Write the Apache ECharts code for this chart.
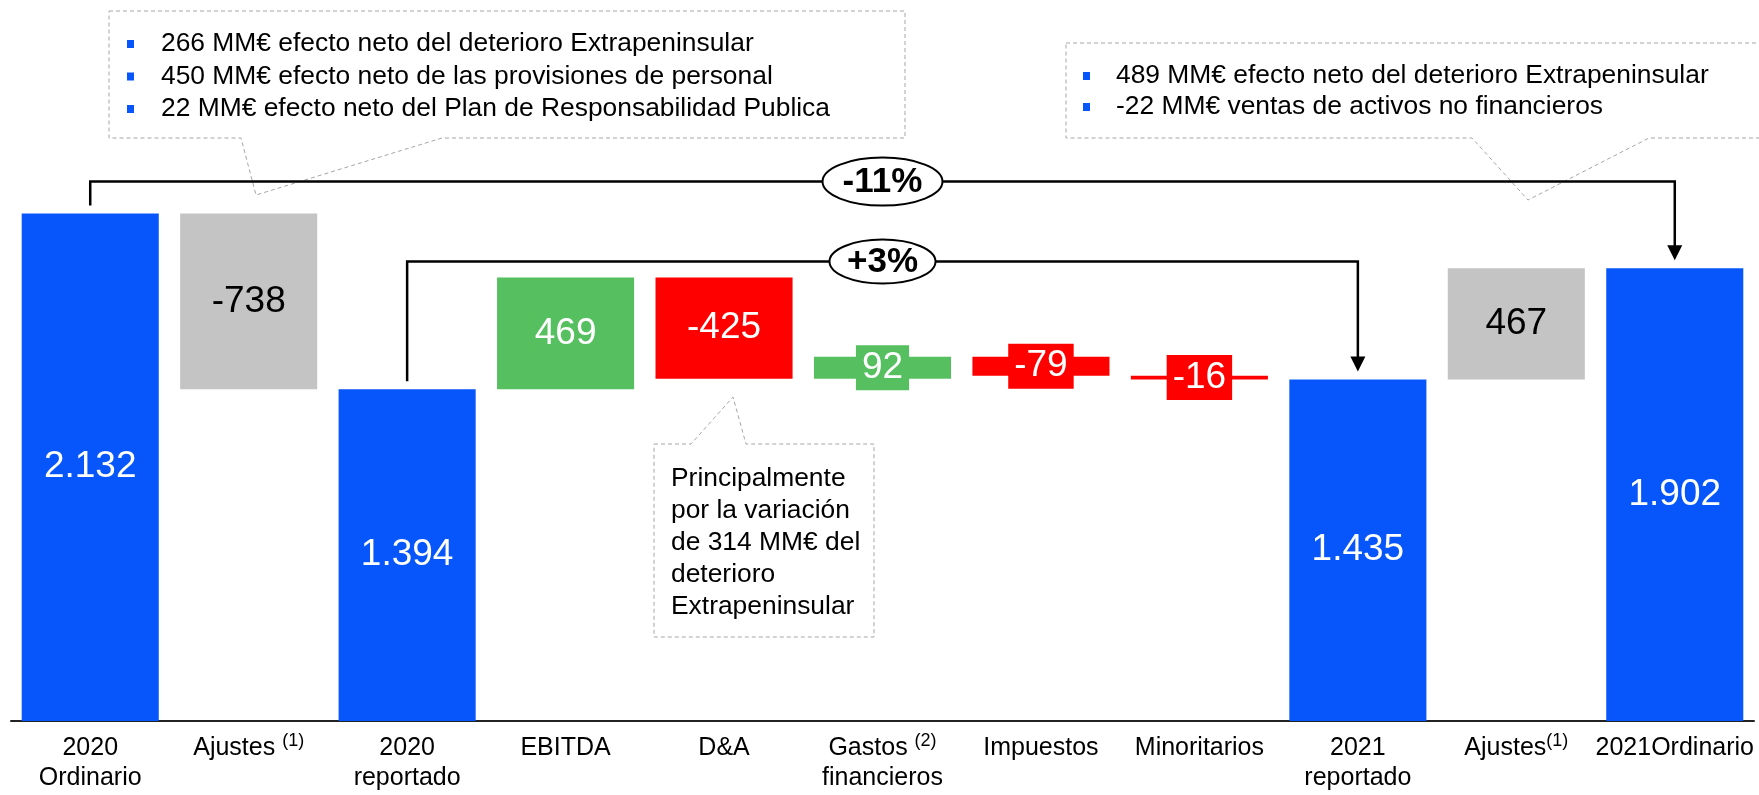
<!DOCTYPE html>
<html>
<head>
<meta charset="utf-8">
<script src="https://cdn.jsdelivr.net/npm/echarts@6/dist/echarts.min.js"></script>
<style>
  html, body { margin: 0; padding: 0; background: #fff; }
  #chart { width: 1759px; height: 795px; }
</style>
</head>
<body>
<div id="chart"></div>
<script>
// datos
var categorias = ['2020\nOrdinario', 'Ajustes (1)', '2020\nreportado', 'EBITDA', 'D&A', 'Gastos (2)\nfinancieros', 'Impuestos', 'Minoritarios', '2021\nreportado', 'Ajustes(1)', '2021Ordinario'];
var valores = [2132, -738, 1394, 469, -425, 92, -79, -16, 1435, 467, 1902];
var tipos = ['total', 'ajuste', 'total', 'var', 'var', 'var', 'var', 'var', 'total', 'ajuste', 'total'];
var notaIzq = ['266 MM€ efecto neto del deterioro Extrapeninsular', '450 MM€ efecto neto de las provisiones de personal', '22 MM€ efecto neto del Plan de Responsabilidad Publica'];
var notaDer = ['489 MM€ efecto neto del deterioro Extrapeninsular', '-22 MM€ ventas de activos no financieros'];
var notaDA = 'Principalmente\npor la variación\nde 314 MM€ del\ndeterioro\nExtrapeninsular';
var variaciones = ['-11%', '+3%'];

var FUENTE = '"Liberation Sans", Arial, sans-serif';
var colores = { total: '#0656fb', ajuste: '#c4c4c4', sube: '#56bf5f', baja: '#ff0000' };

function colorDe(i) {
  if (tipos[i] === 'var') return valores[i] >= 0 ? colores.sube : colores.baja;
  return colores[tipos[i]];
}
function fmt(v) {
  var s = Math.abs(v).toString().replace(/\B(?=(\d{3})+(?!\d))/g, '.');
  return (v < 0 ? '-' : '') + s;
}

// base invisible + altura de cada barra (cascada)
var base = [], alto = [], acum = 0;
valores.forEach(function (v, i) {
  if (tipos[i] === 'total') {
    base.push(0); alto.push(v); acum = v;
  } else {
    var fin = acum + v;
    base.push(Math.min(acum, fin)); alto.push(Math.abs(v)); acum = fin;
  }
});

var chart = echarts.init(document.getElementById('chart'));
var option = {
  animation: false,
  grid: { left: 11, right: 5, top: 126, bottom: 74 },
  xAxis: {
    type: 'category',
    data: categorias,
    axisTick: { show: false },
    axisLine: { lineStyle: { color: '#222', width: 2 } },
    axisLabel: {
      interval: 0,
      margin: 12,
      formatter: function (v) {
        return v.split('\n').map(function (l) {
          var m = l.match(/^(.*?)(\s?)(\(\d\))$/);
          return m ? '{a|' + m[1] + m[2] + '}{s|' + m[3] + '}' : '{a|' + l + '}';
        }).join('\n');
      },
      rich: {
        a: { fontSize: 25, lineHeight: 30, color: '#000', fontFamily: FUENTE },
        s: { fontSize: 18, lineHeight: 18, padding: [0, 0, 14, 0], color: '#000', fontFamily: FUENTE }
      }
    }
  },
  yAxis: { type: 'value', min: 0, max: 2500, show: false, splitLine: { show: false } },
  series: [
    {
      name: 'base', type: 'bar', stack: 'w', silent: true,
      itemStyle: { color: 'transparent' },
      data: base
    },
    {
      name: 'valor', type: 'bar', stack: 'w', barCategoryGap: '13.5%',
      label: {
        show: true, position: 'inside', fontSize: 37, fontFamily: FUENTE,
        padding: [4, 6],
        formatter: function (p) { return fmt(valores[p.dataIndex]); }
      },
      data: alto.map(function (h, i) {
        var c = colorDe(i);
        return {
          value: h,
          itemStyle: { color: c },
          label: { color: tipos[i] === 'ajuste' ? '#000' : '#fff', backgroundColor: c }
        };
      })
    }
  ]
};
chart.setOption(option);

// anotaciones
function px(i, v) { return chart.convertToPixel({ xAxisIndex: 0, yAxisIndex: 0 }, [i, v]); }
var g = [];
var gris = { fill: 'none', stroke: '#a6a6a6', lineWidth: 1, lineDash: [4, 3] };
var tamNota = 26.4;

// recuadros punteados
g.push({ type: 'polygon', z: 10, shape: { points: [[109, 11], [905, 11], [905, 138], [442, 138], [256, 195], [241, 138], [109, 138]] }, style: gris });
g.push({ type: 'polygon', z: 10, shape: { points: [[1066, 43], [1775, 43], [1775, 138], [1649, 138], [1528, 200], [1472, 138], [1066, 138]] }, style: gris });
g.push({ type: 'polygon', z: 10, shape: { points: [[654, 444], [691, 444], [733, 397], [746, 444], [874, 444], [874, 637], [654, 637]] }, style: gris });

notaIzq.forEach(function (t, k) {
  var y = 44 + k * 32.5;
  g.push({ type: 'rect', z: 11, shape: { x: 127, y: y - 4, width: 7, height: 8 }, style: { fill: colores.total } });
  g.push({ type: 'text', z: 11, x: 161, y: y, style: { text: t, fontSize: tamNota, fontFamily: FUENTE, fill: '#000', verticalAlign: 'middle' } });
});
notaDer.forEach(function (t, k) {
  var y = 76 + k * 31;
  g.push({ type: 'rect', z: 11, shape: { x: 1083, y: y - 4, width: 7, height: 8 }, style: { fill: colores.total } });
  g.push({ type: 'text', z: 11, x: 1116, y: y, style: { text: t, fontSize: tamNota, fontFamily: FUENTE, fill: '#000', verticalAlign: 'middle' } });
});
g.push({ type: 'text', z: 11, x: 671, y: 463, style: { text: notaDA, fontSize: tamNota, lineHeight: 32, fontFamily: FUENTE, fill: '#000', verticalAlign: 'top' } });

// corchetes con flecha
function corchete(iA, iB, yLinea, texto, rx, ry) {
  var a = px(iA, valores[iA]), b = px(iB, valores[iB]);
  var linea = { stroke: '#000', lineWidth: 2.5, fill: 'none' };
  var punta = b[1] - 8;
  g.push({ type: 'polyline', z: 20, shape: { points: [[a[0], a[1] - 8], [a[0], yLinea], [b[0], yLinea], [b[0], punta - 14]] }, style: linea });
  g.push({ type: 'polygon', z: 20, shape: { points: [[b[0] - 7.5, punta - 15], [b[0] + 7.5, punta - 15], [b[0], punta]] }, style: { fill: '#000' } });
  var cx = (a[0] + b[0]) / 2;
  g.push({ type: 'ellipse', z: 21, shape: { cx: cx, cy: yLinea, rx: rx, ry: ry }, style: { fill: '#fff', stroke: '#000', lineWidth: 2 } });
  g.push({ type: 'text', z: 22, x: cx, y: yLinea + 1, style: { text: texto, fontSize: 35, fontWeight: 'bold', fontFamily: FUENTE, fill: '#000', align: 'center', verticalAlign: 'middle' } });
}
var yTope = px(0, valores[0])[1] - 32;
corchete(0, 10, yTope, variaciones[0], 60, 24);
corchete(2, 8, yTope + 80, variaciones[1], 53, 22);

chart.setOption({ graphic: g });
</script>
</body>
</html>
